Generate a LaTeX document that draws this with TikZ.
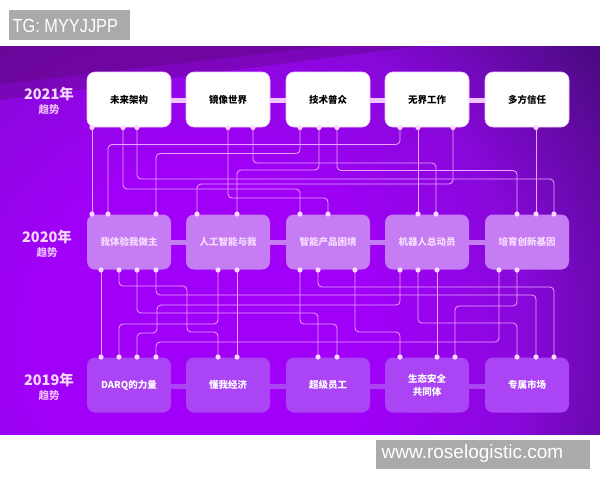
\documentclass[tikz,border=0pt]{standalone}
\usepackage{fontspec}
\newfontfamily\cjk{Noto Sans CJK SC}
\newfontfamily\lblA[FakeStretch=0.86]{Liberation Sans}
\newfontfamily\lblB{Liberation Sans}
\definecolor{bgM}{HTML}{A000F8}
\definecolor{bgMid}{HTML}{8808DA}
\definecolor{bgR}{HTML}{4E0A86}
\definecolor{topdark}{HTML}{5A0672}
\definecolor{boxAedge}{HTML}{F2C6FF}
\definecolor{boxB}{HTML}{C67CF3}
\definecolor{boxC}{HTML}{AA44F4}
\definecolor{barA}{HTML}{F2C6FF}
\definecolor{txtB}{HTML}{F7DDFF}
\definecolor{lineC}{HTML}{EBA4FF}
\definecolor{dotC}{HTML}{FFD8FF}
\definecolor{yearC}{HTML}{F7D8FF}
\definecolor{trendC}{HTML}{EDB8FF}
\definecolor{grayL}{HTML}{AAAAAA}
\pgfdeclareradialshading{bgrad}{\pgfpoint{0bp}{0bp}}{color(0bp)=(bgM); color(7.7bp)=(bgM); color(14.6bp)=(bgMid); color(21.4bp)=(bgR); color(50bp)=(bgR)}
\tikzset{
  rowA/.style={draw=boxAedge, line width=0.6pt, fill=white, rounded corners=8pt,
    minimum width=84pt, minimum height=55pt, inner sep=0pt,
    font=\cjk\bfseries\fontsize{9.5}{13}\selectfont, text=black, align=center},
  rowB/.style={rowA, draw=none, fill=boxB, text=txtB},
  rowC/.style={rowA, draw=none, fill=boxC, text=white},
  conn/.style={draw=lineC, line width=0.8pt, rounded corners=4pt},
  dotS/.style={fill=dotC},
  yearS/.style={font=\cjk\bfseries\fontsize{14.5}{15}\selectfont, text=yearC, inner sep=0pt},
  trendS/.style={font=\cjk\bfseries\fontsize{10.5}{11}\selectfont, text=trendC, inner sep=0pt},
  graybox/.style={fill=grayL, inner sep=0pt, anchor=north west},
}
\begin{document}
\begin{tikzpicture}[x=1pt,y=-1pt]
\useasboundingbox (0,0) rectangle (600,480);
\fill[white] (0,0) rectangle (600,480);
% background
\begin{scope}
  \clip (0,46) rectangle (600,434);
  \shade[shading=bgrad] (200,340) circle (560);
  \fill[topdark, opacity=0.35] (0,46) -- (420,46) -- (0,100) -- cycle;
  \fill[topdark, opacity=0.35] (0,46) -- (330,46) -- (0,84) -- cycle;
\end{scope}
% labels
\node[graybox, minimum width=121pt, minimum height=30pt] (tg) at (9,10) {};
\node[anchor=base west, inner sep=0pt, text=white, font=\lblA\fontsize{19}{19}\selectfont] (tgt) at (12.5,32.3) {TG: MYYJJPP};
\node[graybox, minimum width=214pt, minimum height=29pt] (www) at (376,440) {};
\node[anchor=base west, inner sep=0pt, text=white, font=\lblB\fontsize{19}{19}\selectfont] (wwwt) at (381.5,458.3) {www.roselogistic.com};
% year labels
\node[yearS] (y1) at (49,93.5) {2021年};
\node[trendS] (s1) at (49,110) {趋势};
\node[yearS] (y2) at (47,237) {2020年};
\node[trendS] (s2) at (47,253) {趋势};
\node[yearS] (y3) at (49,380) {2019年};
\node[trendS] (s3) at (49,396) {趋势};
% bars
\fill[barA] (129,97.5) rectangle (527,102.5);
\fill[boxB] (129,239.5) rectangle (527,244.5);
\fill[boxC] (129,383.5) rectangle (527,388.5);
% boxes
\node[rowA] (A1) at (129,99.5) {未来架构};
\node[rowA] (A2) at (228,99.5) {镜像世界};
\node[rowA] (A3) at (328,99.5) {技术普众};
\node[rowA] (A4) at (427,99.5) {无界工作};
\node[rowA] (A5) at (527,99.5) {多方信任};
\node[rowB] (B1) at (129,242) {我体验我做主};
\node[rowB] (B2) at (228,242) {人工智能与我};
\node[rowB] (B3) at (328,242) {智能产品困境};
\node[rowB] (B4) at (427,242) {机器人总动员};
\node[rowB] (B5) at (527,242) {培育创新基因};
\node[rowC] (C1) at (129,385) {DARQ的力量};
\node[rowC] (C2) at (228,385) {懂我经济};
\node[rowC] (C3) at (328,385) {超级员工};
\node[rowC] (C4) at (427,385) {生态安全\\共同体};
\node[rowC] (C5) at (527,385) {专属市场};
% dot coordinates
\foreach \x in {92,123,137,228,253,300,319,337,400,418,453,536} {\coordinate (a\x) at (\x,127.5);}
\foreach \x in {92,108,156,197,237,300,328,418,436,517,536,554} {\coordinate (b\x) at (\x,214);}
\foreach \x in {101,119,137,156,218,237,300,318,355,400,418,437,499,517} {\coordinate (c\x) at (\x,270);}
\foreach \x in {101,119,137,156,218,237,318,337,400,437,455,517,536,554} {\coordinate (d\x) at (\x,357);}
% connectors 2021 -> 2020
\draw[conn] (a92) -- (b92);
\draw[conn] (a400) -- ++(0,17) -| (b108);
\draw[conn] (a300) -- ++(0,26) -| (b156);
\draw[conn] (a253) -- ++(0,35.5) -| (b436);
\draw[conn] (a319) -- ++(0,42.5) -| (b237);
\draw[conn] (a337) -- ++(0,43) -| (b517);
\draw[conn] (a137) -- ++(0,51.5) -| (b554);
\draw[conn] (a453) -- ++(0,56.5) -| (b197);
\draw[conn] (a123) -- ++(0,61.5) -| (b300);
\draw[conn] (a228) -- ++(0,70.5) -| (b328);
\draw[conn] (a418) -- (b418);
\draw[conn] (a536) -- (b536);
% connectors 2020 -> 2019
\draw[conn] (c101) -- (d101);
\draw[conn] (c119) -- (119,286) -- (187,286) -- (187,332) -- (218,332) -- (d218);
\draw[conn] (c137) -- ++(0,43) -| (d318);
\draw[conn] (c156) -- ++(0,25) -| (d536);
\draw[conn] (c218) -- ++(0,54) -| (d119);
\draw[conn] (c237) -- (d237);
\draw[conn] (c300) -- ++(0,54) -| (d337);
\draw[conn] (c318) -- ++(0,17) -| (d554);
\draw[conn] (c355) -- ++(0,62) -| (d400);
\draw[conn] (c400) -- (400,305) -- (157,305) -- (157,333) -- (137,333) -- (d137);
\draw[conn] (c418) -- ++(0,53) -| (d517);
\draw[conn] (c437) -- (d437);
\draw[conn] (c499) -- ++(0,72) -| (d156);
\draw[conn] (c517) -- ++(0,36) -| (d455);
% dots
\foreach \x in {92,123,137,228,253,300,319,337,400,418,453,536} {\fill[dotS] (a\x) circle (2.6);}
\foreach \x in {92,108,156,197,237,300,328,418,436,517,536,554} {\fill[dotS] (b\x) circle (2.6);}
\foreach \x in {101,119,137,156,218,237,300,318,355,400,418,437,499,517} {\fill[dotS] (c\x) circle (2.6);}
\foreach \x in {101,119,137,156,218,237,318,337,400,437,455,517,536,554} {\fill[dotS] (d\x) circle (2.6);}
\end{tikzpicture}
\end{document}
